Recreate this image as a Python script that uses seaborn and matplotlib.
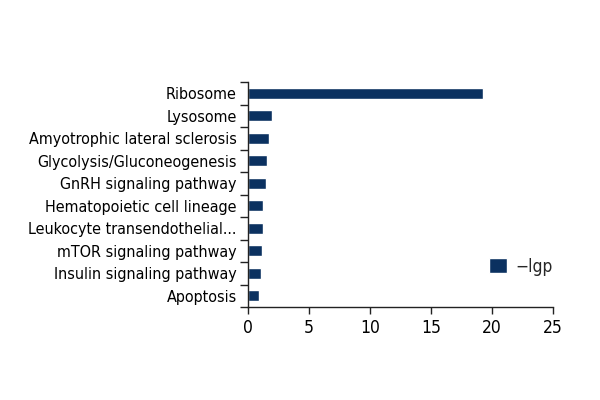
import matplotlib
matplotlib.use('Agg')
import matplotlib.pyplot as plt
import seaborn as sns
import numpy as np

categories = ['Ribosome', 'Lysosome', 'Amyotrophic lateral sclerosis', 'Glycolysis/Gluconeogenesis',
              'GnRH signaling pathway', 'Hematopoietic cell lineage', 'Leukocyte transendothelial...',
              'mTOR signaling pathway', 'Insulin signaling pathway', 'Apoptosis']
values = [19.25, 1.97, 1.75, 1.58, 1.45, 1.28, 1.25, 1.15, 1.04, 0.93]
xticks = [0, 5, 10, 15, 20, 25]

sns.set_style('white')
plt.rcParams['font.family'] = ['DejaVu Sans']
plt.rcParams['font.stretch'] = 'condensed'

fig = plt.figure(figsize=(6, 4), dpi=100)
ax = fig.add_axes([0.413, 0.2325, 0.509, 0.5625])
sns.barplot(x=values, y=categories, color='#0b3160', width=0.47, orient='h', ax=ax, label='\u2212lgp', saturation=1)

ax.set_xlim(0, 25)
ax.set_ylim(len(categories) - 0.5, -0.5)
ax.set_xticks(xticks)
ax.set_xlabel('')
ax.set_ylabel('')
for s in ['top', 'right']:
    ax.spines[s].set_visible(False)
for s in ['left', 'bottom']:
    ax.spines[s].set_color('#222222')
    ax.spines[s].set_linewidth(1)

ax.set_yticks(np.arange(len(categories)))
ax.set_yticklabels(categories, fontsize=11.5, color='black')
ax.set_yticks(np.arange(-0.5, len(categories), 1), minor=True)
ax.tick_params(axis='y', which='major', length=0, pad=8)
ax.tick_params(axis='y', which='minor', length=6, width=1, color='#222222', left=True)
ax.tick_params(axis='x', which='major', length=5, width=1, color='#222222', bottom=True,
               labelsize=12.5, labelcolor='black')

ax.legend(loc='center left', bbox_to_anchor=(0.74, 0.18), frameon=False, fontsize=12.5,
          handlelength=1.0, handleheight=1.0, handletextpad=0.5)

fig.savefig('out.png', dpi=100)
